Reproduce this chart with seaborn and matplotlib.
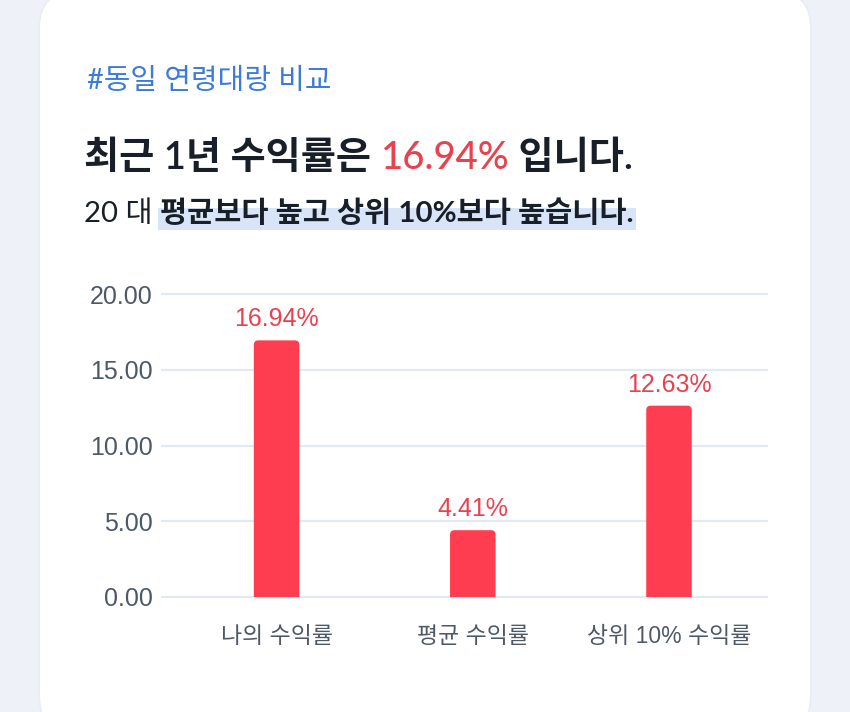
import numpy as np
import pandas as pd
import matplotlib
matplotlib.use("Agg")
import matplotlib.pyplot as plt
import seaborn as sns
from matplotlib.patches import FancyBboxPatch, Rectangle

# ---- data ----
categories = ["나의 수익률", "평균 수익률", "상위 10% 수익률"]
values = [16.94, 4.41, 12.63]
yticks = [0, 5, 10, 15, 20]
ytick_labels = ["0.00", "5.00", "10.00", "15.00", "20.00"]
tag_text = "#동일 연령대랑 비교"
age_text = "20 대 "
compare_text = "평균보다 높고 상위 10%보다 높습니다."

# ---- colours ----
BG = "#eef1f8"
BAR = "#ff3d50"
RED_TXT = "#e8424f"
DARK = "#191f28"
BLUE = "#3c7bd9"
GRID = "#e2e9f3"
TICK = "#4e5968"
HIGHLIGHT = "#d8e5f8"

sns.set_theme(style="white")
plt.rcParams["font.family"] = ["Lato", "Noto Sans CJK KR", "DejaVu Sans"]

W, H = 850, 712
fig = plt.figure(figsize=(W / 100, H / 100), dpi=100)
fig.patch.set_facecolor(BG)

def fx(x):
    return x / W

def fy(y):
    return 1 - y / H

# card (drawn in inches to keep corners round)
dpi = 100
card_l, card_r, card_t, card_b = 40, 810, -8, 732
shadow = FancyBboxPatch(((card_l - 1.5) / dpi, (H - card_b - 1.5) / dpi),
                        (card_r - card_l + 3) / dpi, (card_b - card_t + 3) / dpi,
                        boxstyle="round,pad=0,rounding_size=0.375",
                        transform=fig.dpi_scale_trans, facecolor="#e8ecf4",
                        edgecolor="none", zorder=-3)
card = FancyBboxPatch((card_l / dpi, (H - card_b) / dpi),
                      (card_r - card_l) / dpi, (card_b - card_t) / dpi,
                      boxstyle="round,pad=0,rounding_size=0.36",
                      transform=fig.dpi_scale_trans, facecolor="white",
                      edgecolor="none", zorder=-2)
fig.patches.extend([shadow, card])

# ---- chart ----
ax_l, ax_r, ax_t, ax_b = 162, 767, 294, 597
ax = fig.add_axes([fx(ax_l), fy(ax_b), fx(ax_r - ax_l), (ax_b - ax_t) / H])
ax.set_facecolor("none")

df = pd.DataFrame({"category": categories, "value": values})
sns.barplot(data=df, x="category", y="value", color=BAR, width=0.232,
            saturation=1, ax=ax, zorder=3)

ax.set_ylim(0, 20)
ax.set_xlim(-0.584, 2.4995)
ax.set_yticks(yticks)
ax.set_yticklabels(ytick_labels)
for y in yticks:
    ax.axhline(y, color=GRID, lw=1.6, zorder=1, clip_on=False)
for s in ax.spines.values():
    s.set_visible(False)
ax.set_xlabel("")
ax.set_ylabel("")
ax.tick_params(axis="y", length=0, pad=6.5, labelsize=18, labelcolor=TICK)
ax.tick_params(axis="x", length=0, pad=20, labelsize=16.5, labelcolor=TICK)
for lab in ax.get_yticklabels():
    lab.set_fontfamily(["Liberation Sans", "DejaVu Sans"])
for lab in ax.get_xticklabels():
    lab.set_fontfamily(["Liberation Sans", "Noto Sans CJK KR"])

# rounded tops on bars
fig.canvas.draw()
px_x = ax.transData.transform((1, 0))[0] - ax.transData.transform((0, 0))[0]
px_y = ax.transData.transform((0, 1))[1] - ax.transData.transform((0, 0))[1]
r_px = 4.5
for p in list(ax.patches):
    x0, w, h = p.get_x(), p.get_width(), p.get_height()
    rb = FancyBboxPatch((x0, -2), w, h + 2,
                        boxstyle=f"round,pad=0,rounding_size={r_px / px_x}",
                        mutation_aspect=px_x / px_y,
                        facecolor=BAR, edgecolor="none", zorder=3)
    ax.add_patch(rb)
    p.set_visible(False)
    ax.annotate(f"{h:.2f}%", xy=(x0 + w / 2, h), xytext=(0, 10),
                textcoords="offset points", ha="center", va="baseline",
                fontsize=18, color=RED_TXT,
                fontfamily=["Liberation Sans", "DejaVu Sans"])

# ---- header texts ----
fig.text(fx(87), fy(89), tag_text, fontsize=20.8, color=BLUE,
         va="baseline", ha="left")

renderer = fig.canvas.get_renderer()

def seq_text(x_px, y_px, parts, **kw):
    out = []
    x = x_px
    for s, props in parts:
        t = fig.text(fx(x), fy(y_px), s, va="baseline", ha="left", **kw, **props)
        bb = t.get_window_extent(renderer)
        x += bb.width
        out.append((t, bb))
    return out

seq_text(84, 169, [("최근 1년 수익률은 ", {"color": DARK, "fontweight": 600}),
                   (f"{values[0]:.2f}%", {"color": RED_TXT, "fontweight": 500}),
                   (" 입니다.", {"color": DARK, "fontweight": 600})],
         fontsize=27.5)

parts = seq_text(84, 222, [(age_text, {"color": DARK, "fontweight": "regular"}),
                           (compare_text, {"color": DARK, "fontweight": "bold"})],
                 fontsize=21.2)
t_b, bb_b = parts[1]
hl = Rectangle((bb_b.x0 - 2, H - 230), bb_b.width + 4, 22,
               transform=None, facecolor=HIGHLIGHT, edgecolor="none", zorder=0.5)
fig.patches.append(hl)
hl.set_figure(fig)
t_b.set_zorder(2)

fig.savefig("out.png", dpi=100, facecolor=fig.get_facecolor())
